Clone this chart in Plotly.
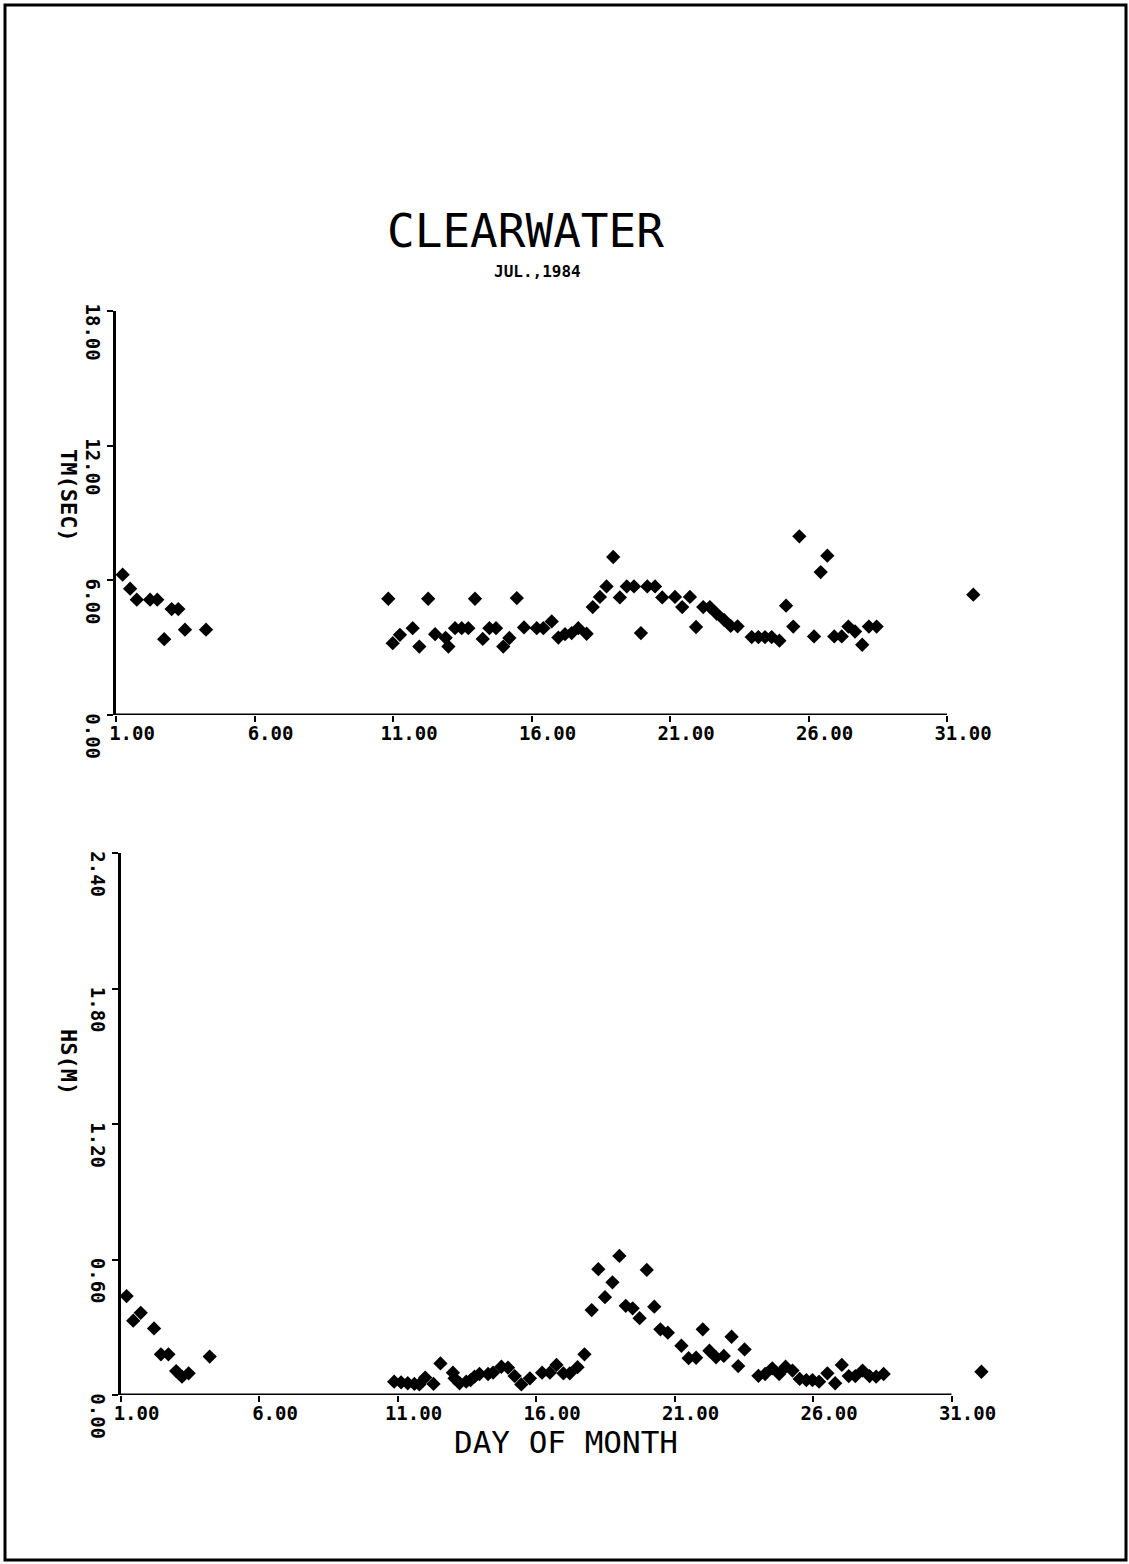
import plotly.graph_objects as go

# ---------------- data ----------------
tm_day = [1.24, 1.51, 1.75, 2.23, 2.49, 2.74, 3.01, 3.25, 3.49, 4.25,
          10.83, 10.99, 11.25, 11.71, 11.95, 12.27, 12.52, 12.90, 13.00, 13.24,
          13.48, 13.72, 13.96, 14.24, 14.48, 14.72, 14.98, 15.20, 15.47, 15.73,
          16.19, 16.43, 16.73, 16.97, 17.21, 17.45, 17.69, 17.99, 18.21, 18.47,
          18.71, 18.95, 19.19, 19.44, 19.70, 19.95, 20.18, 20.46, 20.72, 21.18,
          21.44, 21.72, 21.94, 22.20, 22.44, 22.69, 22.95, 23.19, 23.44, 23.95,
          24.19, 24.43, 24.67, 24.95, 25.19, 25.45, 25.67, 26.20, 26.44, 26.68,
          26.93, 27.20, 27.44, 27.68, 27.94, 28.18, 28.46, 31.95]
tm_sec = [6.25, 5.63, 5.14, 5.14, 5.14, 3.38, 4.72, 4.72, 3.80, 3.80,
          5.18, 3.20, 3.57, 3.87, 3.05, 5.18, 3.60, 3.44, 3.05, 3.87,
          3.87, 3.87, 5.18, 3.39, 3.87, 3.87, 3.05, 3.43, 5.21, 3.90,
          3.87, 3.87, 4.17, 3.45, 3.60, 3.65, 3.87, 3.62, 4.81, 5.26,
          5.73, 7.04, 5.24, 5.73, 5.73, 3.65, 5.73, 5.73, 5.24, 5.26,
          4.81, 5.26, 3.92, 4.81, 4.81, 4.51, 4.24, 3.97, 3.95, 3.47,
          3.47, 3.47, 3.47, 3.31, 4.87, 3.94, 7.96, 3.50, 6.37, 7.10,
          3.50, 3.50, 3.94, 3.72, 3.13, 3.94, 3.94, 5.36]

hs_day = [1.22, 1.46, 1.73, 2.21, 2.46, 2.73, 3.01, 3.22, 3.46, 4.22,
          10.88, 11.13, 11.37, 11.61, 11.79, 12.00, 12.30, 12.55, 13.00, 13.06,
          13.24, 13.48, 13.64, 13.78, 13.96, 14.27, 14.45, 14.75, 14.99, 15.23,
          15.47, 15.78, 16.22, 16.50, 16.74, 16.99, 17.22, 17.50, 17.75, 18.01,
          18.25, 18.49, 18.76, 19.01, 19.24, 19.49, 19.74, 20.00, 20.27, 20.49,
          20.76, 21.25, 21.51, 21.78, 22.02, 22.26, 22.50, 22.78, 23.06, 23.30,
          23.53, 24.03, 24.27, 24.53, 24.78, 25.01, 25.26, 25.52, 25.76, 25.98,
          26.22, 26.52, 26.80, 27.04, 27.29, 27.53, 27.79, 28.04, 28.28, 28.55,
          32.08]
hs_m = [0.438, 0.329, 0.364, 0.295, 0.180, 0.180, 0.106, 0.081, 0.096, 0.170,
        0.059, 0.056, 0.052, 0.049, 0.047, 0.077, 0.049, 0.140, 0.099, 0.074,
        0.052, 0.059, 0.066, 0.081, 0.093, 0.093, 0.099, 0.125, 0.121, 0.084,
        0.047, 0.074, 0.099, 0.099, 0.133, 0.096, 0.096, 0.123, 0.180, 0.376,
        0.557, 0.433, 0.499, 0.616, 0.395, 0.384, 0.340, 0.554, 0.391, 0.291,
        0.276, 0.218, 0.163, 0.165, 0.291, 0.196, 0.167, 0.173, 0.258, 0.128,
        0.202, 0.085, 0.093, 0.118, 0.093, 0.125, 0.108, 0.071, 0.066, 0.066,
        0.059, 0.096, 0.052, 0.133, 0.084, 0.084, 0.108, 0.084, 0.081, 0.093,
        0.103]

x_ticks = [1, 6, 11, 16, 21, 26, 31]
x_tick_labels = ["1.00", "6.00", "11.00", "16.00", "21.00", "26.00", "31.00"]
x_axis_end = 31
tm_ticks = [0, 6, 12, 18]
tm_tick_labels = ["0.00", "6.00", "12.00", "18.00"]
hs_ticks = [0, 0.6, 1.2, 1.8, 2.4]
hs_tick_labels = ["0.00", "0.60", "1.20", "1.80", "2.40"]

title = "CLEARWATER"
subtitle = "JUL.,1984"
tm_title = "TM(SEC)"
hs_title = "HS(M)"
x_title = "DAY OF MONTH"

# ---------------- figure ----------------
W, H = 1129, 1564
FONT = "DejaVu Sans Mono"
PX_PER_DAY = 27.7
X_MAX = 32.3  # room for the points plotted past day 31

def px(x):
    return x / W

def py(y):
    return 1 - y / H

fig = go.Figure()
marker = dict(symbol="diamond", size=11, color="black", line=dict(width=0))
fig.add_trace(go.Scatter(x=tm_day, y=tm_sec, mode="markers", marker=marker,
                         cliponaxis=False, xaxis="x", yaxis="y", showlegend=False))
fig.add_trace(go.Scatter(x=hs_day, y=hs_m, mode="markers", marker=marker,
                         cliponaxis=False, xaxis="x2", yaxis="y2", showlegend=False))

tickfont = dict(family=FONT, size=19, color="black", weight="bold")
common_x = dict(range=[1, X_MAX], tickvals=x_ticks, ticktext=x_tick_labels,
                showline=False, ticks="outside",
                ticklen=6, tickwidth=2, tickcolor="black", showgrid=False,
                zeroline=False, tickfont=tickfont, ticklabelshift=16,
                ticklabelstandoff=-5, automargin=False)
common_y = dict(showline=True, linewidth=3, linecolor="black", ticks="outside",
                ticklen=6, tickwidth=2, tickcolor="black", showgrid=False,
                zeroline=False, tickfont=tickfont, tickangle=90,
                ticklabelshift=24, ticklabelstandoff=-2, automargin=False)

ext = (X_MAX - 1) * PX_PER_DAY
fig.update_layout(
    width=W, height=H, autosize=False,
    margin=dict(l=0, r=0, t=0, b=0, pad=0),
    paper_bgcolor="white", plot_bgcolor="white",
    xaxis=dict(domain=[px(116), px(116 + ext)], anchor="y", **common_x),
    yaxis=dict(domain=[py(715), py(311)], anchor="x", range=[0, 18],
               tickvals=tm_ticks, ticktext=tm_tick_labels, **common_y),
    xaxis2=dict(domain=[px(120.5), px(120.5 + ext)], anchor="y2", **common_x),
    yaxis2=dict(domain=[py(1395), py(853)], anchor="x2", range=[0, 2.4],
                tickvals=hs_ticks, ticktext=hs_tick_labels, **common_y),
)

# x-axis lines ending at day 31 (drawn in data coordinates)
fig.add_shape(type="line", xref="x", yref="y", x0=1, x1=x_axis_end, y0=0, y1=0,
              line=dict(color="black", width=3))
fig.add_shape(type="line", xref="x2", yref="y2", x0=1, x1=x_axis_end, y0=0, y1=0,
              line=dict(color="black", width=3))

def note(text, x, y, size, bold=False, angle=0):
    f = dict(family=FONT, size=size, color="black")
    if bold:
        f["weight"] = "bold"
    return dict(text=text, x=px(x), y=py(y), xref="paper", yref="paper",
                xanchor="center", yanchor="middle", showarrow=False,
                textangle=angle, font=f)

fig.update_layout(annotations=[
    note(title, 525, 231, 46),
    note(subtitle, 537, 271, 16, bold=True),
    note(tm_title, 69, 495, 22, bold=True, angle=90),
    note(hs_title, 69, 1062, 22, bold=True, angle=90),
    note(x_title, 566, 1442, 31),
])

# page frame
fig.add_shape(type="rect", xref="paper", yref="paper",
              x0=px(5), x1=px(1126), y0=py(1560), y1=py(5),
              line=dict(color="black", width=3))

fig.write_html("out.html", config={"displayModeBar": False},
               post_script="document.body.style.margin='0';document.body.style.overflow='hidden';")
